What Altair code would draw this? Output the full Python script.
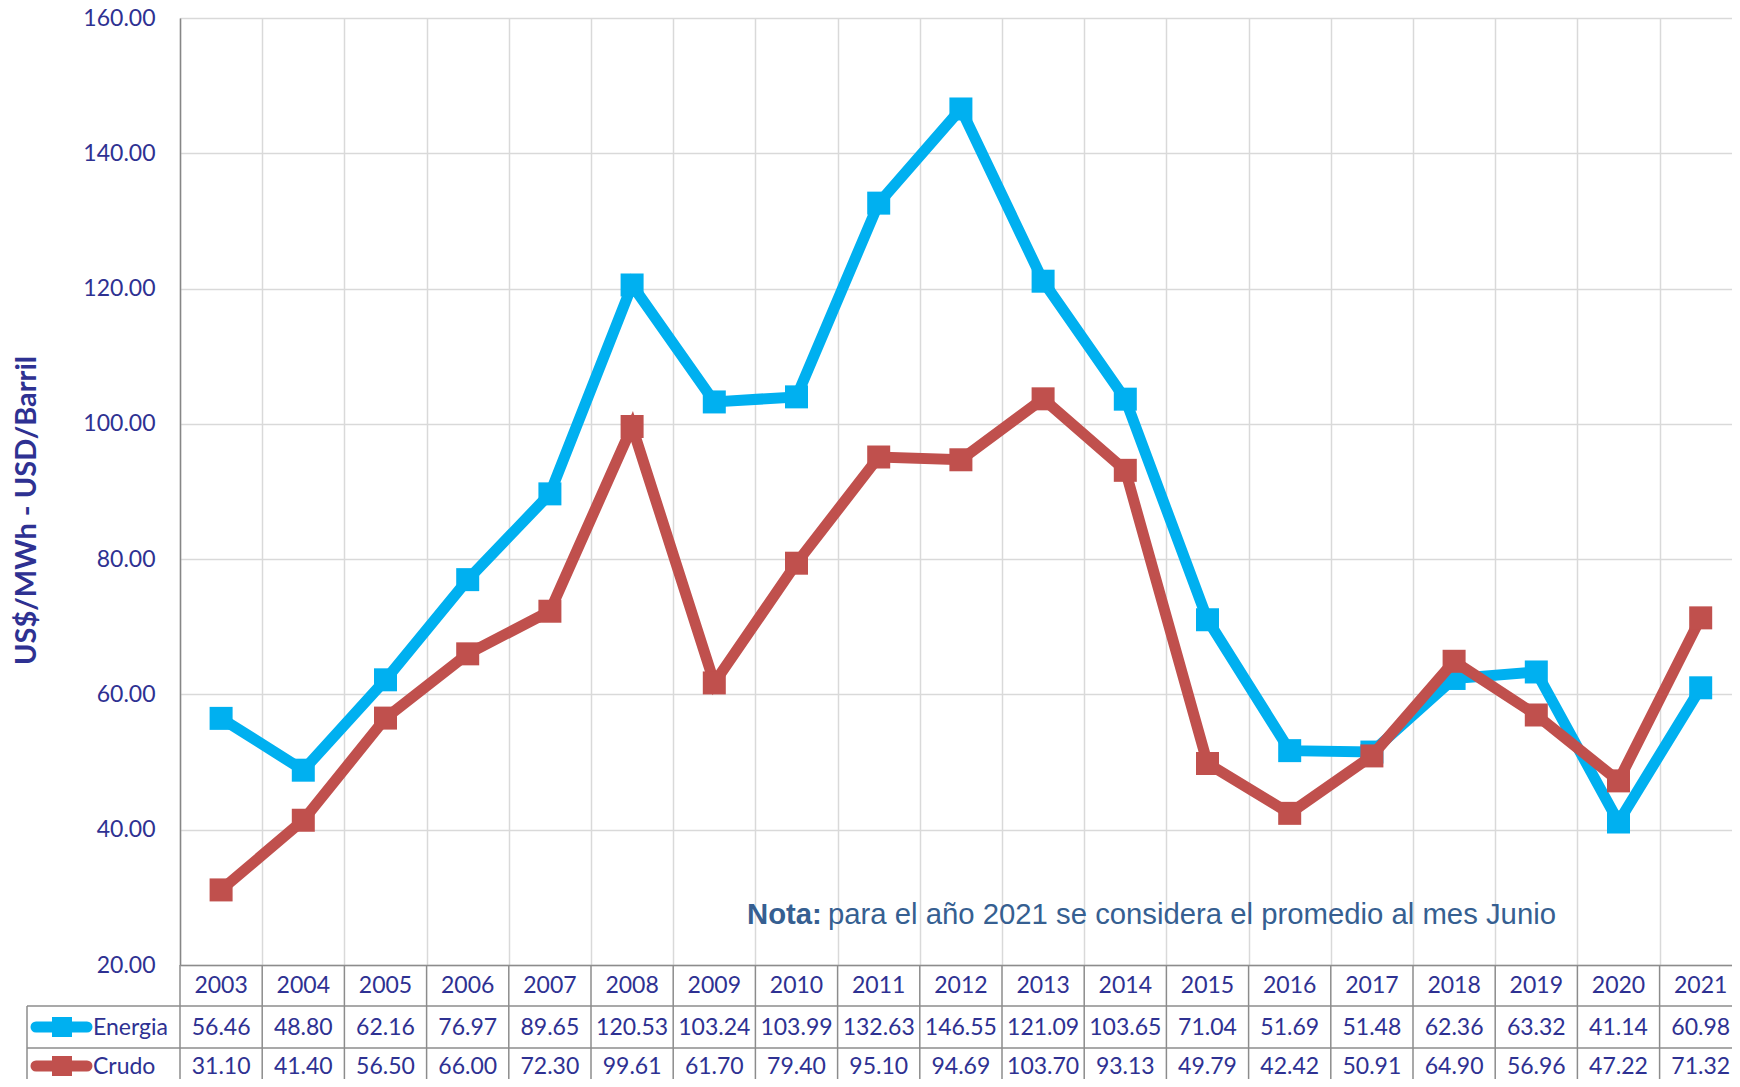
import altair as alt
import pandas as pd

years = list(range(2003, 2022))
energia = [56.46, 48.80, 62.16, 76.97, 89.65, 120.53, 103.24, 103.99, 132.63, 146.55,
           121.09, 103.65, 71.04, 51.69, 51.48, 62.36, 63.32, 41.14, 60.98]
crudo = [31.10, 41.40, 56.50, 66.00, 72.30, 99.61, 61.70, 79.40, 95.10, 94.69,
         103.70, 93.13, 49.79, 42.42, 50.91, 64.90, 56.96, 47.22, 71.32]
series_names = ["Energia", "Crudo"]
series_colors = ["#00B0F0", "#C0504D"]
y_ticks = [20, 40, 60, 80, 100, 120, 140, 160]
y_title = "US$/MWh - USD/Barril"
note_bold = "Nota:"
note_text = "para el año 2021 se considera el promedio al mes Junio"

W, H = 1552, 947
COLW = 82.2  # reference column width in px (last column runs past the page edge)
TXT = "#2E3192"
GRID = "#D9D9D9"
TBL = "#8C8C8C"
NOTE = "#365F91"
FONT = "Lato"

df = pd.DataFrame({"year": years, "Energia": energia, "Crudo": crudo})
bounds = [y - 0.5 for y in years]

x0 = years[0] - 0.5
xs = alt.Scale(domain=[x0, x0 + W / COLW], nice=False, zero=False)
ys = alt.Scale(domain=[y_ticks[0], y_ticks[-1]], nice=False, zero=False)

x_axis = alt.Axis(values=bounds, grid=True, gridColor=GRID, gridWidth=1.5,
                  labels=False, ticks=False, domain=True, domainColor=TBL,
                  domainWidth=1.5, title=None)
y_axis = alt.Axis(values=y_ticks, format=".2f", labelFont=FONT, labelFontSize=23,
                  labelColor=TXT, labelPadding=25, ticks=False, domainColor="#868686",
                  domainWidth=1.5, grid=True, gridColor=GRID, gridWidth=1.5,
                  title=y_title, titleFont=FONT, titleFontSize=29, titleFontWeight="bold",
                  titleColor=TXT, titleX=-154, titleY=492, titleAlign="center",
                  titleBaseline="middle")

base = alt.Chart(df)
X = alt.X("year:Q", scale=xs, axis=x_axis)

layers = []
for name, col in zip(series_names, series_colors):
    Y = alt.Y(f"{name}:Q", scale=ys, axis=y_axis)
    layers.append(base.mark_line(color=col, strokeWidth=11, strokeJoin="miter").encode(x=X, y=Y))
    layers.append(base.mark_square(color=col, size=529, opacity=1).encode(x=X, y=Y))

# table grid
bdf = pd.DataFrame({"b": bounds})
layers.append(alt.Chart(bdf).mark_rule(color=TBL, strokeWidth=1.5).encode(
    x=alt.X("b:Q", scale=xs, axis=x_axis), y=alt.value(H), y2=alt.value(1061)))
for yy in [988, 1030]:
    layers.append(alt.Chart(pd.DataFrame({"s": [0]})).mark_rule(color=TBL, strokeWidth=1.5).encode(
        x=alt.value(-153), x2=alt.value(W), y=alt.value(yy)))
layers.append(alt.Chart(pd.DataFrame({"s": [0]})).mark_rule(color=TBL, strokeWidth=1.5).encode(
    x=alt.value(-153), y=alt.value(988), y2=alt.value(1061)))

# table text
layers.append(base.mark_text(font=FONT, fontSize=23, color=TXT, baseline="alphabetic").encode(
    x=X, y=alt.value(975), text=alt.Text("year:Q", format="d")))
for name, yy in zip(series_names, [1017, 1056]):
    layers.append(base.mark_text(font=FONT, fontSize=23, color=TXT, baseline="alphabetic").encode(
        x=X, y=alt.value(yy), text=alt.Text(f"{name}:Q", format=".2f")))

# legend cells
for name, col, yy in zip(series_names, series_colors, [1009, 1048]):
    ld = alt.Chart(pd.DataFrame({"s": [name]}))
    layers.append(ld.mark_rule(color=col, strokeWidth=11, strokeCap="round").encode(
        x=alt.value(-144), x2=alt.value(-93), y=alt.value(yy)))
    layers.append(ld.mark_square(color=col, size=400, opacity=1).encode(
        x=alt.value(-118), y=alt.value(yy)))
    layers.append(ld.mark_text(font=FONT, fontSize=23, color=TXT, align="left",
                               baseline="alphabetic").encode(
        x=alt.value(-87), y=alt.value(yy + 8), text="s:N"))

# note
nd = alt.Chart(pd.DataFrame({"a": [note_bold], "b": [note_text]}))
layers.append(nd.mark_text(font="Liberation Sans", fontSize=29.3, fontWeight="bold", color=NOTE,
                           align="left", baseline="alphabetic").encode(
    x=alt.value(567), y=alt.value(906), text="a:N"))
layers.append(nd.mark_text(font="Liberation Sans", fontSize=29.3, color=NOTE,
                           align="left", baseline="alphabetic").encode(
    x=alt.value(648), y=alt.value(906), text="b:N"))

chart = alt.layer(*layers).properties(
    width=W, height=H,
    autosize=alt.AutoSizeParams(type="none"),
    padding={"left": 172, "top": 10, "right": 0, "bottom": 114},
).configure_view(stroke=None).configure(background="white")

chart.save("out.html", embed_options={"renderer": "svg", "actions": False})
